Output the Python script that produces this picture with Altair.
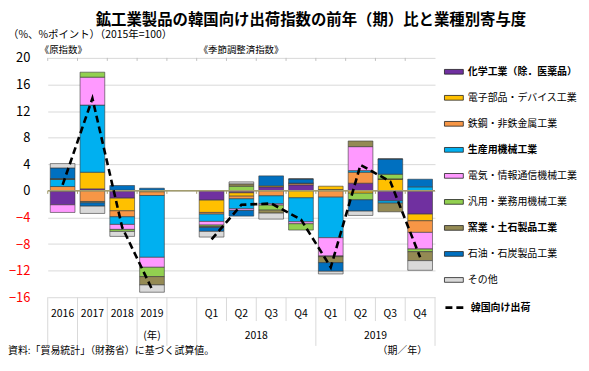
import json
import altair as alt
import pandas as pd

JP = "Noto Sans CJK JP"

# ---- categories -------------------------------------------------------------
cat_keys = ["2016", "2017", "2018", "2019", "gap",
            "18Q1", "18Q2", "18Q3", "18Q4", "19Q1", "19Q2", "19Q3", "19Q4"]
cat_labels = ["2016", "2017", "2018", "2019", "",
              "Q1", "Q2", "Q3", "Q4", "Q1", "Q2", "Q3", "Q4"]
data_cats = ["2016", "2017", "2018", "2019",
             "18Q1", "18Q2", "18Q3", "18Q4", "19Q1", "19Q2", "19Q3", "19Q4"]
line_groups = ["annual"] * 4 + ["quarterly"] * 8

# ---- series -----------------------------------------------------------------
series = ["化学工業（除．医薬品）", "電子部品・デバイス工業", "鉄鋼・非鉄金属工業",
          "生産用機械工業", "電気・情報通信機械工業", "汎用・業務用機械工業",
          "窯業・土石製品工業", "石油・石炭製品工業", "その他"]
bold_series = ["化学工業（除．医薬品）", "生産用機械工業", "窯業・土石製品工業"]
colors = ["#7030A0", "#FFC000", "#F79646", "#00B0F0", "#FF99FF",
          "#92D050", "#948A54", "#0070C0", "#D9D9D9"]

chem = [-2.1, 0.3, -1.1, 0.1, -1.4, -0.3, 0.6, 0.9, 0.2, 1.15, -1.5, -3.5]
elec_parts = [0.0, 2.5, -1.9, -0.15, -1.85, -0.5, 0.15, -1.05, 0.5, -0.35, 1.8, -1.0]
steel = [0.65, -1.6, -0.9, -0.55, -0.25, -0.4, -0.75, 0.25, -0.95, 1.65, 0.0, -1.75]
prod_mach = [1.1, 10.1, -1.15, -9.3, -1.1, -1.5, -1.2, -3.6, -6.1, 0.25, -0.35, 0.6]
elec_mach = [-1.15, 4.2, -0.75, -1.5, -0.55, -0.25, -0.2, -0.3, -2.75, 3.6, 0.0, -2.5]
gen_mach = [0.0, 0.75, -0.3, -1.4, -0.2, 0.7, -0.75, -0.95, -0.1, -1.0, 0.7, -0.4]
ceramics = [0.1, -0.2, 0.1, -1.25, -0.15, 0.35, -0.45, 0.0, -0.9, 0.85, -1.3, -1.35]
petro = [1.6, -0.5, 0.7, 0.3, -0.6, -0.85, 1.5, 0.65, -1.3, -1.7, 2.3, 1.15]
other = [0.65, -1.1, -0.75, -1.1, -0.85, 0.3, -0.9, 0.0, -0.4, -0.65, 0.0, -1.45]
contrib = [chem, elec_parts, steel, prod_mach, elec_mach, gen_mach, ceramics, petro, other]

line_name = "韓国向け出荷"
korea = [0.9, 13.9, -5.5, -14.8, -7.3, -2.1, -1.9, -4.3, -11.5, 3.9, 1.4, -10.0]

y_ticks = [-16, -12, -8, -4, 0, 4, 8, 12, 16, 20]

# ---- tables -----------------------------------------------------------------
bar_rows = []
for i, (s, vals) in enumerate(zip(series, contrib)):
    for c, v in zip(data_cats, vals):
        bar_rows.append({"cat": c, "series": s, "value": v, "idx": i})
bar_df = pd.DataFrame(bar_rows)
line_df = pd.DataFrame({"cat": data_cats, "value": korea, "grp": line_groups,
                        "name": [line_name] * len(data_cats)})

W, H = 390, 241
one = pd.DataFrame({"a": [0]})

label_map = json.dumps(dict(zip(cat_keys, cat_labels)), ensure_ascii=False)
bold_list = json.dumps(bold_series, ensure_ascii=False)

xscale = alt.Scale(domain=cat_keys, paddingInner=0.17, paddingOuter=0.085)
yscale = alt.Scale(domain=[-16, 20], nice=False)

x_axis = alt.Axis(title=None, labelExpr=f"{label_map}[datum.value]",
                  labelAngle=0, ticks=False, domain=False, grid=False,
                  labelPadding=11, labelFont=JP, labelFontSize=10.5,
                  labelColor="black")
y_axis = alt.Axis(title=None, values=y_ticks, ticks=False, domain=False,
                  gridColor="#D9D9D9", gridWidth=1, labelOverlap=False,
                  labelPadding=18, labelFont=JP, labelFontSize=13,
                  labelColor=alt.condition("datum.value < 0",
                                           alt.value("#FF0000"),
                                           alt.value("#000000")))


def X(field="cat:N"):
    return alt.X(field, sort=cat_keys, scale=xscale, axis=x_axis)


def Y(field="value:Q", **kw):
    return alt.Y(field, scale=yscale, axis=y_axis, **kw)


bars = alt.Chart(bar_df).mark_bar(stroke="#3a3a3a", strokeWidth=0.6).encode(
    x=X(),
    y=Y(stack="zero"),
    color=alt.Color("series:N", scale=alt.Scale(domain=series, range=colors),
                    legend=alt.Legend(title=None, orient="none", legendX=399, legendY=4,
                                      direction="vertical",
                                      symbolType="M-1,-0.25L1,-0.25L1,0.25L-1,0.25Z",
                                      symbolSize=361, symbolStrokeColor="#222222",
                                      symbolStrokeWidth=0.8, symbolOpacity=1,
                                      labelFont=JP, labelFontSize=10, labelColor="black",
                                      labelFontWeight=alt.ExprRef(
                                          expr=f"indexof({bold_list}, datum.value) >= 0 ? 'bold' : 'normal'"),
                                      rowPadding=11.2, labelOffset=4, padding=0,
                                      labelLimit=200)),
    order=alt.Order("idx:Q", sort="ascending"),
)

zero_line = alt.Chart(pd.DataFrame({"value": [0]})).mark_rule(
    color="#A39D6E", strokeWidth=1.5).encode(y=Y())

line = alt.Chart(line_df).mark_line(color="black", strokeWidth=2.6).encode(
    x=X(),
    y=Y(),
    detail="grp:N",
    strokeDash=alt.StrokeDash("name:N", scale=alt.Scale(domain=[line_name], range=[[7, 4]]),
                              legend=alt.Legend(title=None, orient="none", legendX=399,
                                                legendY=240, symbolType="stroke",
                                                symbolSize=400, symbolStrokeColor="black",
                                                symbolStrokeWidth=2.6, labelFont=JP,
                                                labelFontSize=10, labelFontWeight="bold",
                                                labelColor="black", labelOffset=4,
                                                padding=0)),
)

# column separators below the plot and tiny ticks
full_left = ["2016", "2017", "2018", "2019", "gap", "18Q1", "19Q1"]
short_left = ["18Q2", "18Q3", "18Q4", "19Q2", "19Q3", "19Q4"]
sep_full = alt.Chart(pd.DataFrame({"cat": full_left})).mark_rule(
    color="#D9D9D9", strokeWidth=1, xOffset=-15).encode(
    x=X(), y=alt.value(H), y2=alt.value(H + 49))
sep_short = alt.Chart(pd.DataFrame({"cat": short_left})).mark_rule(
    color="#D9D9D9", strokeWidth=1, xOffset=-15).encode(
    x=X(), y=alt.value(H), y2=alt.value(H + 24))
sep_right = alt.Chart(pd.DataFrame({"cat": ["19Q4"]})).mark_rule(
    color="#D9D9D9", strokeWidth=1, xOffset=15).encode(
    x=X(), y=alt.value(H), y2=alt.value(H + 49))

edge_zero = pd.DataFrame({"cat": cat_keys, "value": [0] * len(cat_keys),
                          "end": [-0.45] * len(cat_keys)})
edge_top = pd.DataFrame({"cat": cat_keys, "value": [20] * len(cat_keys),
                         "end": [19.55] * len(cat_keys)})
zero_ticks = alt.Chart(edge_zero).mark_rule(color="#A39D6E", strokeWidth=1, xOffset=-15).encode(
    x=X(), y=Y(), y2="end:Q")
top_ticks = alt.Chart(edge_top).mark_rule(color="#BFBFBF", strokeWidth=1, xOffset=-15).encode(
    x=X(), y=Y(), y2="end:Q")

# second-row category labels
row2_center = alt.Chart(pd.DataFrame({"cat": ["2019"], "t": ["(年)"]})).mark_text(
    font=JP, fontSize=10.5, baseline="middle", color="black").encode(
    x=X(), y=alt.value(H + 39), text="t:N")
row2_years = alt.Chart(pd.DataFrame({"cat": ["18Q2", "19Q2"], "t": ["2018", "2019"]})).mark_text(
    font=JP, fontSize=10.5, baseline="middle", color="black", xOffset=15).encode(
    x=X(), y=alt.value(H + 39), text="t:N")


def label(txt, x, y, size, weight="normal", align="left"):
    return alt.Chart(one).mark_text(font=JP, fontSize=size, fontWeight=weight,
                                    align=align, baseline="middle", color="black").encode(
        x=alt.value(x), y=alt.value(y), text=alt.value(txt))


texts = [
    label("鉱工業製品の韓国向け出荷指数の前年（期）比と業種別寄与度", 265, -38, 15.5, "bold", "center"),
    label("（%、%ポイント）（2015年=100）", -40, -23, 10.5),
    label("《原指数》", -8, -8, 9.5),
    label("《季節調整済指数》", 152, -8, 9.5),
    label("資料:「貿易統計」（財務省）に基づく試算値。", -40, 295, 10),
    label("（期／年）", 382, 295, 10, align="right"),
]

chart = alt.layer(
    sep_full, sep_short, sep_right, bars, zero_line, zero_ticks, top_ticks, line,
    row2_center, row2_years, *texts
).properties(
    width=W, height=H,
    autosize=alt.AutoSizeParams(type="none"),
    padding={"left": 40, "top": 49, "right": 147, "bottom": 64},
).configure_view(stroke=None)

chart.save("out.html", embed_options={"renderer": "svg", "actions": False})
